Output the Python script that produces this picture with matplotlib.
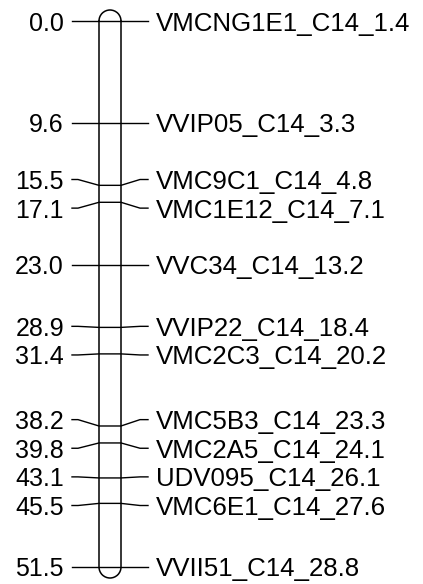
import numpy as np
import matplotlib
matplotlib.use('Agg')
import matplotlib.pyplot as plt
from matplotlib.patches import Arc

plt.rcParams['font.family'] = ['Liberation Sans', 'DejaVu Sans']

# linkage group data (cM positions and marker names)
positions = [0.0, 9.6, 15.5, 17.1, 23.0, 28.9, 31.4, 38.2, 39.8, 43.1, 45.5, 51.5]
markers = ['VMCNG1E1_C14_1.4', 'VVIP05_C14_3.3', 'VMC9C1_C14_4.8', 'VMC1E12_C14_7.1',
           'VVC34_C14_13.2', 'VVIP22_C14_18.4', 'VMC2C3_C14_20.2', 'VMC5B3_C14_23.3',
           'VMC2A5_C14_24.1', 'UDV095_C14_26.1', 'VMC6E1_C14_27.6', 'VVII51_C14_28.8']


def spread_labels(pos, gap):
    # group labels that are too close and spread them around the group mean
    groups = [[p] for p in pos]
    changed = True
    while changed:
        changed = False
        out = []
        for g in groups:
            if out:
                prev = out[-1]
                pc = np.mean(prev)
                gc = np.mean(g)
                ptop = pc + (len(prev) - 1) * gap / 2
                gbot = gc - (len(g) - 1) * gap / 2
                if gbot - ptop < gap:
                    out[-1] = prev + g
                    changed = True
                    continue
            out.append(g)
        groups = out
    lab = []
    for g in groups:
        c = np.mean(g)
        n = len(g)
        lab += [c + (i - (n - 1) / 2) * gap for i in range(n)]
    return lab


px_per_cm = 10.6
label_pos = spread_labels(positions, 2.7)

fig = plt.figure(figsize=(4.23, 5.84), dpi=100)
ax = fig.add_axes([0, 0, 1, 1])
ax.set_xlim(0, 423)
ax.set_ylim(positions[-1] + 17 / px_per_cm, positions[0] - 21 / px_per_cm)
ax.axis('off')

# chromosome bar
xl, xr = 99, 121
xc = (xl + xr) / 2
r = (xr - xl) / 2
top, bot = positions[0], positions[-1]
ax.plot([xl, xl], [top, bot], color='black', lw=1.1)
ax.plot([xr, xr], [top, bot], color='black', lw=1.1)
# y axis is inverted, so the angles are flipped
ax.add_patch(Arc((xc, top), 2 * r, 2 * r / px_per_cm, theta1=180, theta2=360,
                 color='black', lw=1.1))
ax.add_patch(Arc((xc, bot), 2 * r, 2 * r / px_per_cm, theta1=0, theta2=180,
                 color='black', lw=1.1))

for p, lp, m in zip(positions, label_pos, markers):
    ax.plot([72, 78, xl, xr, 140, 148], [lp, lp, p, p, lp, lp], color='black', lw=1)
    ax.text(64, lp, f'{p:.1f}', ha='right', va='center_baseline', fontsize=18)
    ax.text(156, lp, m, ha='left', va='center_baseline', fontsize=18.6)

plt.savefig('out.png', dpi=100)
